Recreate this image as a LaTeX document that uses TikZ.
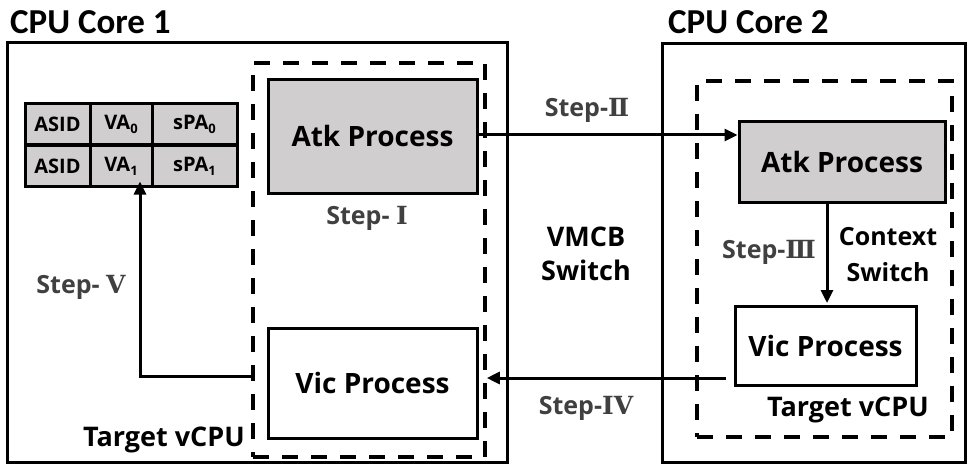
\documentclass[tikz,border=0pt]{standalone}
\usepackage{fontspec}
\usetikzlibrary{arrows.meta,calc}
\newfontfamily\labelfont{Open Sans}
\newfontfamily\corefont{Carlito}
\newfontfamily\numfont{DejaVu Serif}
\newcommand{\lowidx}[1]{\raisebox{-.35ex}{\fontsize{13}{13}\selectfont #1}}
\newcommand{\rn}[1]{{\numfont\bfseries #1}}
\definecolor{boxgray}{HTML}{D0CECE}
\definecolor{steptext}{HTML}{404040}
\begin{document}
\begin{tikzpicture}[x=1pt,y=-1pt,
  core/.style={draw,line width=3pt,inner sep=0pt},
  vcpu/.style={draw,line width=3.6pt,dash pattern=on 16pt off 13pt,inner sep=0pt},
  proc/.style={draw,line width=3pt,inner sep=0pt,font=\labelfont\bfseries\fontsize{28}{30}\selectfont},
  cell/.style={draw,line width=3pt,fill=boxgray,inner sep=0pt,font=\labelfont\bfseries\fontsize{20}{22}\selectfont},
  stepl/.style={text=steptext,font=\labelfont\bfseries\fontsize{25}{28}\selectfont,inner sep=0pt},
  plain/.style={font=\labelfont\bfseries\fontsize{27}{34}\selectfont,inner sep=0pt,align=center},
  title/.style={font=\corefont\bfseries\fontsize{35}{38}\selectfont,inner sep=0pt,anchor=west},
  arr/.style={line width=3pt,-{Triangle[length=13pt,width=12pt]}}]
\useasboundingbox (0,0) rectangle (972,468);

% CPU cores
\node[core,minimum width=500pt,minimum height=419pt] (core1) at (257,252.5) {};
\node[core,minimum width=303pt,minimum height=418pt] (core2) at (813.5,253) {};
\node[title] (t1) at (10,22) {CPU Core 1};
\node[title] (t2) at (668,22) {CPU Core 2};

% target vCPU regions
\node[vcpu,minimum width=232pt,minimum height=394pt] (vcpu1) at (369,260) {};
\node[vcpu,minimum width=255pt,minimum height=356pt] (vcpu2) at (824.5,259) {};

% processes
\node[proc,fill=boxgray,minimum width=209pt,minimum height=113pt] (atk1) at (372.5,136.5) {Atk Process};
\node[proc,fill=white,minimum width=209pt,minimum height=110pt] (vic1) at (372.5,383) {Vic Process};
\node[proc,fill=boxgray,minimum width=206pt,minimum height=80pt] (atk2) at (842,162) {Atk Process};
\node[proc,fill=white,minimum width=181pt,minimum height=79pt] (vic2) at (825.5,346) {Vic Process};

% TLB entries
\node[cell,minimum width=65pt,minimum height=41pt] (a0) at (57.5,124.5) {ASID};
\node[cell,minimum width=62pt,minimum height=41pt] (v0) at (121,124.5) {VA\lowidx{0}};
\node[cell,minimum width=85pt,minimum height=41pt] (p0) at (194.5,124.5) {sPA\lowidx{0}};
\node[cell,minimum width=65pt,minimum height=40pt] (a1) at (57.5,166) {ASID};
\node[cell,minimum width=62pt,minimum height=40pt] (v1) at (121,166) {VA\lowidx{1}};
\node[cell,minimum width=85pt,minimum height=40pt] (p1) at (194.5,166) {sPA\lowidx{1}};

% labels
\node[plain,anchor=east] (tv1) at (245,440) {Target vCPU};
\node[plain] (tv2) at (848,410) {Target vCPU};
\node[plain] (vmcb) at (586,254) {VMCB\\Switch};
\node[plain,font=\labelfont\bfseries\fontsize{25}{36}\selectfont] (ctx) at (888,255) {Context\\Switch};
\node[stepl] (s1) at (367,218) {Step- \rn{Ⅰ}};
\node[stepl] (s2) at (587,110) {Step-\rn{Ⅱ}};
\node[stepl] (s3) at (769,252) {Step-\rn{Ⅲ}};
\node[stepl] (s4) at (586,408) {Step-\rn{IV}};
\node[stepl] (s5) at (81,287) {Step- \rn{V}};

% flows
\coordinate (s2a) at ([yshift=1.5pt]atk1.east);
\draw[arr] (s2a) -- (s2a -| atk2.west);
\draw[arr] ([xshift=1.5pt]vic2.north |- atk2.south) -- ([xshift=1.5pt,yshift=2pt]vic2.north);
\coordinate (s4a) at ([xshift=-8pt,yshift=-32pt]vic2.west);
\draw[arr] (s4a) -- (s4a -| vcpu1.east);
\coordinate (s5a) at ([xshift=-12pt,yshift=7pt]vic1.west);
\draw[arr] (s5a) -| ([xshift=19pt,yshift=6pt]v1.south);
\end{tikzpicture}
\end{document}
